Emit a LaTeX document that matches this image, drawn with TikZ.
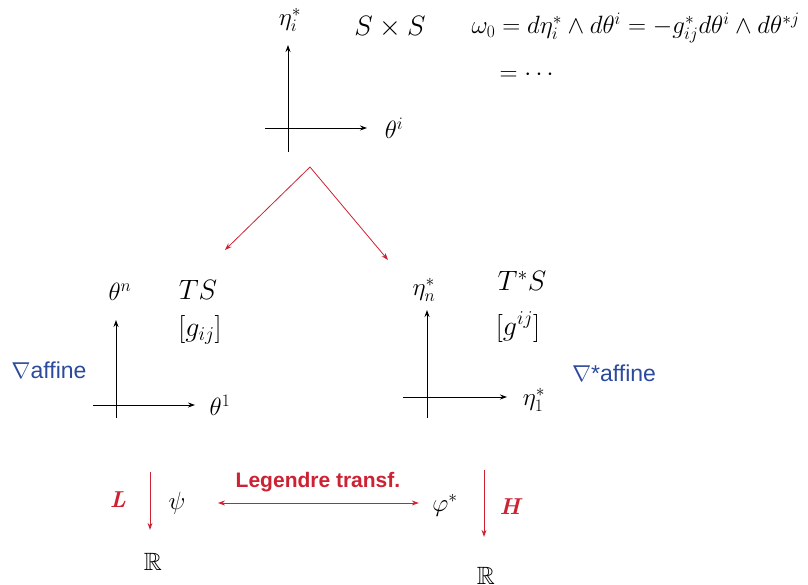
\RequirePackage{fix-cm}
\documentclass[tikz,border=0pt]{standalone}
\usepackage{amsmath}
\usepackage{amssymb}
\usepackage{fontspec}
\newfontfamily\labelsans{Liberation Sans}
\usepackage{tikz}
\usetikzlibrary{arrows.meta, positioning}
\definecolor{legendrered}{RGB}{204, 34, 51}
\definecolor{affineblue}{RGB}{44, 74, 156}

\begin{document}
\begin{tikzpicture}[
    x=1pt, y=-1pt,
    axis/.style={-{Stealth[length=7pt,width=5pt]}, line width=0.9pt},
    redarrow/.style={legendrered, -{Stealth[length=7pt,width=5pt]}, line width=0.8pt},
    mathlabel/.style={font=\fontsize{25}{27}\selectfont},
    metriclabel/.style={font=\fontsize{28}{30}\selectfont},
    spacelabel/.style={font=\fontsize{28}{30}\selectfont},
    affinelabel/.style={font=\labelsans\fontsize{23}{25}\selectfont, text=affineblue},
    maplabel/.style={font=\bfseries\itshape\fontsize{23}{25}\selectfont, text=legendrered}
]
\useasboundingbox (0,0) rectangle (808,585);

% S x S
\coordinate (prodvbot) at (288,152);
\coordinate (prodvtop) at (288,45);
\coordinate (prodhleft) at (265,128);
\coordinate (prodhright) at (367,128);
\draw[axis] (prodvbot) -- (prodvtop);
\draw[axis] (prodhleft) -- (prodhright);
\node[mathlabel] (etai) at (290,20) {$\eta_i^*$};
\node[mathlabel] (thetai) at (394,128) {$\theta^i$};
\node[spacelabel] (prod) at (390,27) {$S\times S$};
\node[mathlabel, anchor=west] (omega) at (468,28) {$\omega_0 = d\eta_i^*\wedge d\theta^i = -g^*_{ij}d\theta^i\wedge d\theta^{*j}$};
\node[mathlabel, anchor=west] (dots) at (496,75) {$= \cdots$};

% split
\coordinate (split) at (310,167);
\coordinate (splitleft) at (225,250);
\coordinate (splitright) at (388,260);
\draw[redarrow] (split) -- (splitleft);
\draw[redarrow] (split) -- (splitright);

% TS
\coordinate (tanvbot) at (116,418);
\coordinate (tanvtop) at (116,320);
\coordinate (tanhleft) at (93,405);
\coordinate (tanhright) at (195,405);
\draw[axis] (tanvbot) -- (tanvtop);
\draw[axis] (tanhleft) -- (tanhright);
\node[mathlabel] (thetan) at (120,292) {$\theta^n$};
\node[mathlabel] (theta1) at (220,405) {$\theta^1$};
\node[spacelabel] (tan) at (198,290) {$TS$};
\node[metriclabel] (gdown) at (200,330) {$[g_{ij}]$};
\node[affinelabel] (nabla) at (49,370) {$\nabla$affine};

% T*S
\coordinate (cotvbot) at (427,418);
\coordinate (cotvtop) at (427,310);
\coordinate (cothleft) at (403,397);
\coordinate (cothright) at (507,397);
\draw[axis] (cotvbot) -- (cotvtop);
\draw[axis] (cothleft) -- (cothright);
\node[mathlabel] (etan) at (424,290) {$\eta_n^*$};
\node[mathlabel] (eta1) at (534,400) {$\eta_1^*$};
\node[spacelabel] (cot) at (522,281) {$T^*S$};
\node[metriclabel] (gup) at (518,327) {$[g^{ij}]$};
\node[affinelabel] (nablastar) at (614,373) {$\nabla$*affine};

% potentials
\node[mathlabel] (psi) at (177,503) {$\psi$};
\node[mathlabel] (phi) at (445,505) {$\varphi^*$};
\node[mathlabel] (reall) at (153,562) {$\mathbb{R}$};
\node[mathlabel] (realr) at (486,576) {$\mathbb{R}$};
\node[maplabel] (lagr) at (118,500) {L};
\node[maplabel] (ham) at (510,507) {H};
\coordinate (lagrtop) at (150,472);
\coordinate (hamtop) at (484,470);
\draw[redarrow, shorten >=20pt] (lagrtop) -- (lagrtop |- reall.north);
\draw[redarrow, shorten >=27pt] (hamtop) -- (hamtop |- realr.north);
\draw[redarrow, {Stealth[length=7pt,width=5pt]}-{Stealth[length=7pt,width=5pt]}, shorten <=29pt, shorten >=10pt] (psi.east) -- (phi.west |- psi.east);
\node[font=\labelsans\bfseries\fontsize{21}{23}\selectfont, text=legendrered] (legendre) at (318,482) {Legendre transf.};

\end{tikzpicture}
\end{document}
